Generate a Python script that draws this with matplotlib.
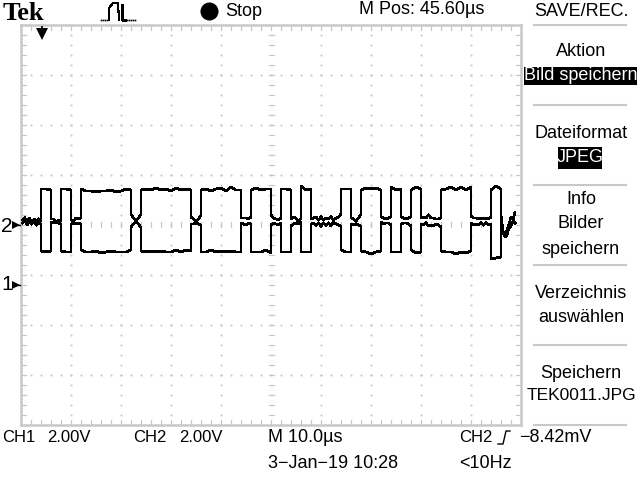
#Tek scope screenshot, CH2 trace
import numpy as np
import matplotlib
matplotlib.use("Agg")
import matplotlib.pyplot as plt

# box edges in us (10 us/div), levels in V (2 V/div)
box_start = [4, 8, 12, 24, 36, 46, 52, 56, 64, 68, 74, 78, 84, 94]
box_end = [6, 10, 22, 34, 44, 50, 54, 58, 66, 72, 76, 80, 90, 96]

box_top = [
    [1.44, 1.44, 1.40], [1.44, 1.44, 1.40],
    [1.44, 1.36, 1.36, 1.32, 1.36, 1.36, 1.40, 1.32, 1.36, 1.44, 1.40],
    [1.40, 1.44, 1.40, 1.48, 1.40, 1.44, 1.36, 1.48, 1.40, 1.44, 1.40],
    [1.40, 1.44, 1.36, 1.44, 1.48, 1.36, 1.52, 1.40, 1.40],
    [1.40, 1.48, 1.40, 1.44, 1.44], [1.44, 1.44, 1.40], [1.56, 1.40, 1.44],
    [1.44, 1.44, 1.44], [1.40, 1.48, 1.44, 1.48, 1.40], [1.52, 1.40, 1.44],
    [1.40, 1.52, 1.44], [1.40, 1.44, 1.52, 1.40, 1.52, 1.40, 1.52], [1.40, 1.56, 1.44],
]
box_bottom = [
    [-1.04, -1.08, -1.04], [-1.04, -1.08, -1.08],
    [-1.00, -1.08, -1.08, -1.04, -1.12, -1.08, -1.04, -1.08, -1.08, -1.08, -1.00],
    [-1.04, -1.08, -1.04, -1.08, -1.04, -1.08, -1.08, -1.00, -1.08, -1.00, -1.04],
    [-1.08, -1.08, -1.00, -1.08, -1.04, -1.08, -1.04, -1.08, -1.08],
    [-1.08, -1.08, -1.08, -1.00, -1.12], [-1.08, -1.08, -1.08], [-1.08, -1.08, -1.08],
    [-1.00, -1.08, -1.08], [-1.04, -1.08, -1.16, -1.08, -1.04], [-1.08, -1.08, -1.08],
    [-1.00, -1.12, -1.08], [-1.04, -1.08, -1.08, -1.16, -1.08, -1.12, -1.04], [-1.36, -1.32, -1.28],
]

gap_upper = [
    [0.20, 0.28, 0.12, 0.28, 0.12, 0.24, 0.12, 0.24, 0.16],
    [0.24, 0.24, 0.12, 0.20, 0.16], [0.20, 0.16, 0.28, 0.24, 0.28],
    [0.44, 0.28, 0.20, 0.28, 0.44], [0.32, 0.24, 0.16, 0.24, 0.40],
    [0.28, 0.28, 0.28, 0.24, 0.32], [0.40, 0.28, 0.24, 0.20, 0.28],
    [0.24, 0.32, 0.28, 0.12, 0.28],
    [0.24, 0.28, 0.32, 0.20, 0.32, 0.20, 0.28, 0.24, 0.32, 0.20, 0.28, 0.32, 0.44],
    [0.28, 0.24, 0.16, 0.28, 0.44], [0.32, 0.28, 0.24, 0.28, 0.32], [0.32, 0.28, 0.24, 0.28, 0.32],
    [0.28, 0.32, 0.28, 0.40, 0.28, 0.28, 0.24, 0.24, 0.28],
    [0.36, 0.28, 0.28, 0.24, 0.28, 0.24, 0.28, 0.24, 0.32],
    [0.40, -0.24, -0.36, -0.20, 0.04, 0.32, 0.20, 0.52],
]
gap_lower = [
    [0.08, 0.16, 0.00, 0.12, 0.04, 0.12, 0.00, 0.08, 0.04],
    [0.12, 0.08, 0.08, 0.08, 0.04], [0.04, 0.08, 0.04, 0.08, 0.04],
    [-0.08, 0.04, 0.12, 0.04, -0.12], [0.04, 0.04, 0.08, 0.04, 0.00],
    [0.08, 0.04, 0.00, 0.08, 0.04], [0.00, 0.08, 0.04, 0.00, 0.08],
    [-0.04, 0.04, 0.08, 0.04, 0.12],
    [0.04, 0.08, 0.00, 0.08, -0.04, 0.08, 0.00, 0.08, -0.04, 0.12, 0.04, 0.00, -0.04],
    [0.04, 0.00, 0.04, 0.00, -0.04], [0.12, 0.04, 0.08, 0.08, 0.00], [0.04, 0.08, 0.08, 0.04, -0.04],
    [0.04, 0.00, 0.08, -0.04, 0.00, -0.04, 0.04, 0.00, -0.08],
    [0.08, 0.00, 0.04, 0.00, 0.08, 0.00, 0.08, 0.00, 0.04],
    [0.12, -0.28, -0.48, -0.40, -0.12, -0.04, 0.16, 0.08],
]

gap_start = [0.3] + box_end
gap_end = box_start + [98.8]

fig = plt.figure(figsize=(6.4, 4.8), dpi=100, facecolor="white")
ax = fig.add_axes([21 / 640, 1 - 425 / 480, 500 / 640, 400 / 480])
ax.set_xlim(0, 100)
ax.set_ylim(-8, 8)
ax.axis("off")

grey = "#c8c8c8"
dot_grey = "#c4c4c4"

# graticule
for spine_x in [0, 100]:
    ax.plot([spine_x, spine_x], [-8, 8], color=grey, lw=1.8, clip_on=False, zorder=1)
for spine_y in [-8, 8]:
    ax.plot([0, 100], [spine_y, spine_y], color=grey, lw=1.8, clip_on=False, zorder=1)
for i in np.arange(2, 100, 2):
    for y0, y1 in [(-8, -7.8), (7.8, 8), (-0.1, 0.1)]:
        ax.plot([i, i], [y0, y1], color=grey, lw=0.9, zorder=1)
for i in np.arange(-7.6, 8, 0.4):
    for x0, x1 in [(0, 1), (99, 100), (49.5, 50.5)]:
        ax.plot([x0, x1], [i, i], color=grey, lw=0.9, zorder=1)
dot_x = np.arange(2, 100, 2)
dot_y = np.arange(-7.6, 8, 0.4)
for gx in np.arange(10, 100, 10):
    if gx != 50:
        ax.plot(np.full_like(dot_y, gx), dot_y, ls="", marker="s", ms=1.3, mew=0, color=dot_grey, zorder=1)
for gy in np.arange(-6, 8, 2):
    if gy != 0:
        ax.plot(dot_x, np.full_like(dot_x, gy, dtype=float), ls="", marker="s", ms=1.3, mew=0, color=dot_grey, zorder=1)

# trace, upper and lower sides of the eye
upper_t, upper_v, lower_t, lower_v = [], [], [], []
for i in range(len(gap_upper)):
    t_gap = np.linspace(gap_start[i], gap_end[i], len(gap_upper[i]))
    upper_t += list(t_gap)
    upper_v += gap_upper[i]
    lower_t += list(t_gap)
    lower_v += gap_lower[i]
    if i < len(box_top):
        t_box = np.linspace(box_start[i], box_end[i], len(box_top[i]))
        upper_t += list(t_box)
        upper_v += box_top[i]
        lower_t += list(t_box)
        lower_v += box_bottom[i]
ax.plot(upper_t, upper_v, color="black", lw=1.15, antialiased=False, zorder=3, solid_joinstyle="miter")
ax.plot(lower_t, lower_v, color="black", lw=1.15, antialiased=False, zorder=3, solid_joinstyle="miter")

# overlay in screen pixels for the scope UI
ui = fig.add_axes([0, 0, 1, 1], zorder=5)
ui.set_xlim(0, 640)
ui.set_ylim(480, 0)
ui.axis("off")
ui.patch.set_alpha(0)

font = ["Liberation Sans", "DejaVu Sans"]

def label(x, y, s, ha="center", color="black", size=13):
    ui.text(x, y, s, ha=ha, va="center", color=color, fontsize=size, family=font)

ui.text(3, 13, "Tek", ha="left", va="center", fontsize=19, fontweight="bold", family="Liberation Serif")
ui.plot([209], [11], marker="o", ms=13, color="black", mew=0)
label(225, 11, "Stop", ha="left")
label(359, 10, "M Pos: 45.60\u00b5s", ha="left")
label(581, 11, "SAVE/REC.")

# acquisition icon
ui.plot([109, 109, 113, 118, 119], [20, 8, 3, 3, 20], color="black", lw=0.8, antialiased=False)
ui.plot([122, 122, 125], [5, 20, 20], color="black", lw=0.8, antialiased=False)
ui.plot([101, 103, 105, 107, 127, 129, 131, 133, 135], [20] * 9, ls="", marker="s", ms=1.2, mew=0, color="black")

# trigger position and channel markers
ui.plot([42, 42], [27, 33], color="black", lw=1.3)
ui.plot([42], [34], marker="v", ms=9, color="black", mew=0)
label(1, 226, "2", ha="left", size=15)
ui.plot([14, 20], [225, 225], color="black", lw=1)
ui.plot([16], [225], marker=">", ms=6, color="black", mew=0)
label(1, 285, "1", ha="left", size=15)
ui.plot([14, 20], [285, 285], color="black", lw=1)
ui.plot([16], [285], marker=">", ms=6, color="black", mew=0)

# menu
for sep_y in [25, 105, 185, 265, 345, 425]:
    ui.plot([534, 626], [sep_y, sep_y], color=grey, lw=1.5)
label(581, 52, "Aktion")
ui.fill_between([524, 637], 67, 85, color="black", lw=0)
label(580.5, 76, "Bild speichern", color="white")
label(581, 133, "Dateiformat")
ui.fill_between([558, 602], 147, 169, color="black", lw=0)
label(580, 157, "JPEG", color="white")
label(581, 200, "Info")
label(581, 224, "Bilder")
label(581, 249, "speichern")
label(581, 293, "Verzeichnis")
label(581, 317, "ausw\u00e4hlen")
label(581, 373, "Speichern")
label(581, 396, "TEK0011.JPG", size=12.5)

# status line
label(2, 437, "CH1", ha="left", size=12)
label(47, 437, "2.00V", ha="left", size=12)
label(133, 437, "CH2", ha="left", size=12)
label(179, 437, "2.00V", ha="left", size=12)
label(268, 437, "M 10.0\u00b5s", ha="left")
label(459, 437, "CH2", ha="left", size=12)
ui.plot([498, 503, 506, 510], [444, 444, 431, 431], color="black", lw=1)
label(519, 437, "\u22128.42mV", ha="left")
label(268, 464, "3\u2212Jan\u221219 10:28", ha="left")
label(459, 464, "<10Hz", ha="left")

plt.savefig("out.png", dpi=100)
